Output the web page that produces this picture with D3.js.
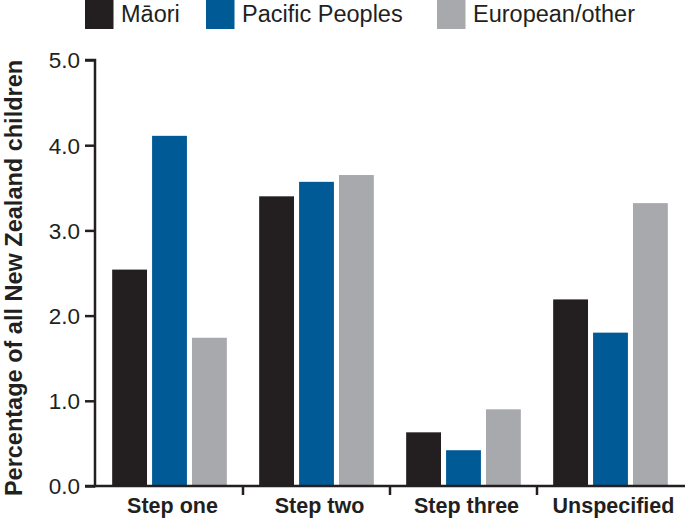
<!DOCTYPE html>
<html><head><meta charset="utf-8">
<script src="https://cdn.jsdelivr.net/npm/d3@7"></script>
<style>body{margin:0;background:#fff}svg{display:block}text{font-family:"Liberation Sans",Arial,sans-serif;fill:#231f20}</style>
</head><body>
<svg id="c" width="685" height="519"></svg>
<script>
const categories = ["Step one","Step two","Step three","Unspecified"];
const seriesNames = ["Māori","Pacific Peoples","European/other"];
const maori = [2.54, 3.40, 0.63, 2.19];
const pacific = [4.11, 3.57, 0.42, 1.80];
const european = [1.74, 3.65, 0.90, 3.32];
const yTicks = [0,1,2,3,4,5];
const colors = ["#231f20","#005a96","#a7a9ac"];
const seriesValues = [maori, pacific, european];

const svg = d3.select("#c");
const y = d3.scaleLinear().domain([0,5]).range([486,60]);
const x0 = d3.scaleBand().domain(categories).range([96,684]).paddingInner(0.22).paddingOuter(0.11);
const x1 = d3.scaleBand().domain(seriesNames).range([0,x0.bandwidth()]).paddingInner(0.127);

const g = svg.append("g");
categories.forEach((c,i)=>{
  seriesNames.forEach((s,j)=>{
    g.append("rect").attr("x",x0(c)+x1(s)).attr("width",x1.bandwidth())
     .attr("y",y(seriesValues[j][i])).attr("height",y(0)-y(seriesValues[j][i]))
     .attr("fill",colors[j]);
  });
});

// y axis
const yAxis = d3.axisLeft(y).tickValues(yTicks).tickFormat(d3.format(".1f")).tickSize(10).tickPadding(5);
const ya = svg.append("g").attr("transform","translate(95,0)").call(yAxis);
ya.attr("font-size",null).attr("font-family",null);
ya.select(".domain").attr("stroke","#231f20").attr("stroke-width",2.5).attr("d","M-10,60H0V486H-10");
ya.selectAll(".tick line").attr("stroke","#231f20").attr("stroke-width",2.5);
ya.selectAll(".tick text").attr("font-size",22.5).attr("fill","#231f20").attr("dy","0.35em");

// x axis
const xa = svg.append("g").attr("transform","translate(0,486)");
xa.append("line").attr("x1",94).attr("x2",685).attr("stroke","#231f20").attr("stroke-width",2.5);
const step = x0.step();
categories.slice(1).forEach(c=>{
  const bx = x0(c) - step*x0.paddingInner()/2;
  xa.append("line").attr("x1",bx).attr("x2",bx).attr("y1",0).attr("y2",9).attr("stroke","#231f20").attr("stroke-width",2.5);
});
categories.forEach(c=>{
  xa.append("text").attr("x",x0(c)+x0.bandwidth()/2+3).attr("y",27).attr("text-anchor","middle")
    .attr("font-size",21.5).attr("font-weight","bold").text(c);
});

// y label
svg.append("text").attr("transform","translate(22,278) rotate(-90)").attr("text-anchor","middle")
  .attr("font-size",23.5).attr("font-weight","bold").text("Percentage of all New Zealand children");

// legend
const legX = [85,206,437];
seriesNames.forEach((s,j)=>{
  svg.append("rect").attr("x",legX[j]).attr("y",0).attr("width",28.5).attr("height",29).attr("fill",colors[j]);
  svg.append("text").attr("x",legX[j]+36).attr("y",22).attr("font-size",23.5).text(s);
});
</script>
</body></html>
